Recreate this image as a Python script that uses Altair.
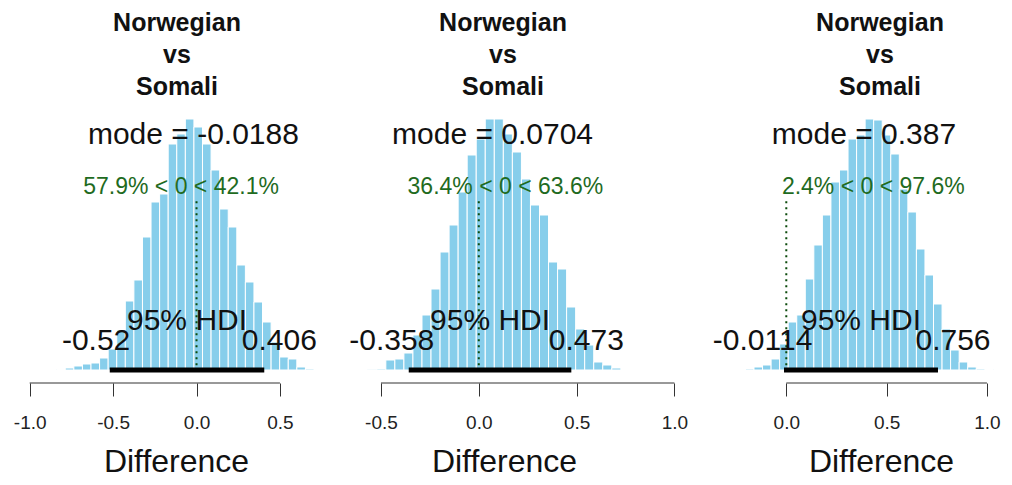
import altair as alt
import pandas as pd

FONT = "Liberation Sans"
SKY = "#87CEEB"
GREEN = "#1f6b1f"

title_lines = ["Norwegian", "vs", "Somali"]
axis_label = "Difference"

# Posterior histograms of the difference, one per comparison:
# first bin edge, bin width and bar heights (density, arbitrary units)
bin_start = [-0.838, -0.5675, -0.2035]
bin_width = [0.0514, 0.0462, 0.0426]
heights_1 = [0.5, 2, 4, 6, 7, 12, 21, 40, 69, 90, 133, 168, 176, 226, 236,
             251, 243, 226, 200, 161, 143, 105, 88, 68, 48, 28, 13, 11, 3, 1]
heights_2 = [0.7, 1, 10, 11, 17, 35, 55, 81, 118, 145, 178, 215, 231, 251,
             251, 236, 218, 191, 165, 155, 108, 101, 63, 41, 25, 8, 5, 2]
heights_3 = [1, 3, 5, 11, 26, 48, 55, 91, 125, 155, 188, 200, 231, 235, 251,
             250, 235, 216, 181, 158, 121, 95, 66, 41, 20, 8, 3, 1, 0.5]
heights = [heights_1, heights_2, heights_3]

# Summary statistics printed on each panel
modes = [-0.0188, 0.0704, 0.387]
hdi_low = [-0.52, -0.358, -0.0114]
hdi_high = [0.406, 0.473, 0.756]
pct_below = [57.9, 36.4, 2.4]
pct_above = [42.1, 63.6, 97.6]
comp_value = 0

# Axis ranges and tick values
x_domains = [[-1.1, 0.8], [-0.74, 1.1], [-0.44, 1.08]]
x_ticks = [[-1.0, -0.5, 0.0, 0.5], [-0.5, 0.0, 0.5, 1.0], [0.0, 0.5, 1.0]]

# Layout
panel_w = [317, 360, 305]
panel_h = 251
title_dx = [5.5, -11, 29.5]
axis_title_x = [163, 170, 183]

BIG = 30
SMALL = 23

# Advance widths (em) of Arial-metric glyphs, used to anchor text at a fraction of its width
GLYPH_W = {c: 0.556 for c in "0123456789"}
GLYPH_W.update({".": 0.278, "-": 0.333, "%": 0.889, "<": 0.584, " ": 0.278})


def text_width(s, size):
    return sum(GLYPH_W.get(c, 0.556) for c in s) * size


def panel(i):
    n = len(heights[i])
    lo = [bin_start[i] + k * bin_width[i] for k in range(n)]
    hi = [bin_start[i] + (k + 1) * bin_width[i] for k in range(n)]
    bars_df = pd.DataFrame({"lo": lo, "hi": hi, "h": heights[i]})
    ymax = max(heights[i])

    lo_txt = str(hdi_low[i])
    hi_txt = str(hdi_high[i])
    cv_txt = f"{pct_below[i]}% < {comp_value} < {pct_above[i]}%"
    ann = pd.DataFrame([{
        "mode": modes[i],
        "mode_txt": f"mode = {modes[i]}",
        "mode_y": 0.9 * ymax,
        "comp": comp_value,
        "cv_y": 0.7 * ymax,
        "cv_line": 0.96 * 0.7 * ymax,
        "cv_txt": cv_txt,
        "hdi_lo": hdi_low[i],
        "hdi_hi": hdi_high[i],
        "hdi_mid": (hdi_low[i] + hdi_high[i]) / 2,
        "lo_txt": lo_txt,
        "hi_txt": hi_txt,
        "zero": 0,
    }])

    axis = alt.Axis(
        values=x_ticks[i], offset=13, tickSize=13, domain=False, grid=False,
        labelFont=FONT, labelFontSize=19, labelPadding=17, labelColor="#222",
        tickColor="#333", tickWidth=1, labelFlush=False, labelOverlap=False,
        labelExpr="replace(format(datum.value, '.1f'), '\u2212', '-')",
        title=axis_label, titleFont=FONT, titleFontSize=32, titleFontWeight="normal",
        titleColor="#111", titleX=axis_title_x[i], titleY=88, titleAlign="center",
        titleBaseline="alphabetic", titleAnchor="start",
    )
    xscale = alt.Scale(domain=x_domains[i], nice=False, zero=False)
    yscale = alt.Scale(domain=[0, ymax], nice=False, zero=True)

    def X(field):
        return alt.X(field, type="quantitative", scale=xscale, axis=axis)

    def Y(field):
        return alt.Y(field, type="quantitative", scale=yscale, axis=None)

    bars = alt.Chart(bars_df).mark_rect(color=SKY, stroke="white", strokeWidth=1).encode(
        x=X("lo"), x2="hi:Q", y=Y("h"), y2=alt.datum(0)
    )
    base = alt.Chart(ann)
    mode_text = base.mark_text(font=FONT, fontSize=BIG, baseline="alphabetic", align="center",
                               color="#111").encode(x=X("mode"), y=Y("mode_y"), text="mode_txt:N")
    cv_rule = base.mark_rule(color="#0b4a0b", strokeWidth=2, strokeDash=[2, 4]).encode(
        x=X("comp"), y=Y("cv_line"), y2="zero:Q"
    )
    cv_text = base.mark_text(font=FONT, fontSize=SMALL, baseline="alphabetic", align="left",
                             color=GREEN,
                             dx=-pct_below[i] / 100 * text_width(cv_txt, SMALL)).encode(
        x=X("comp"), y=Y("cv_y"), text="cv_txt:N"
    )
    hdi_bar = base.mark_rule(color="black", strokeWidth=5, strokeCap="butt").encode(
        x=X("hdi_lo"), x2="hdi_hi:Q", y=Y("zero")
    )
    hdi_text = base.mark_text(text="95% HDI", font=FONT, fontSize=BIG, baseline="alphabetic",
                              align="center", dy=-40, color="#111").encode(
        x=X("hdi_mid"), y=Y("zero")
    )
    lo_text = base.mark_text(font=FONT, fontSize=BIG, baseline="alphabetic", align="left",
                             dy=-20, dx=-0.7 * text_width(lo_txt, BIG), color="#111").encode(
        x=X("hdi_lo"), y=Y("zero"), text="lo_txt:N"
    )
    hi_text = base.mark_text(font=FONT, fontSize=BIG, baseline="alphabetic", align="left",
                             dy=-20, dx=-0.3 * text_width(hi_txt, BIG), color="#111").encode(
        x=X("hdi_hi"), y=Y("zero"), text="hi_txt:N"
    )
    axis_line = base.mark_rule(color="#333", strokeWidth=1).encode(
        x=alt.X(datum=x_ticks[i][0], type="quantitative", scale=xscale, axis=axis),
        x2=alt.datum(x_ticks[i][-1]),
        y=alt.value(panel_h + 13),
    )

    return alt.layer(
        bars, cv_rule, hdi_bar, axis_line, mode_text, cv_text, hdi_text, lo_text, hi_text
    ).properties(
        width=panel_w[i], height=panel_h,
        title=alt.TitleParams(text=title_lines, font=FONT, fontSize=25, fontWeight="bold",
                              lineHeight=32, anchor="middle", dx=title_dx[i], offset=19,
                              color="#111"),
    )


chart = alt.hconcat(panel(0), panel(1), panel(2), spacing=4, bounds="flush").properties(
    padding={"left": 13, "top": 10, "right": 5, "bottom": 5},
    background="white",
).configure_view(stroke=None)

chart.save("out.html", embed_options={"renderer": "svg", "actions": False})
